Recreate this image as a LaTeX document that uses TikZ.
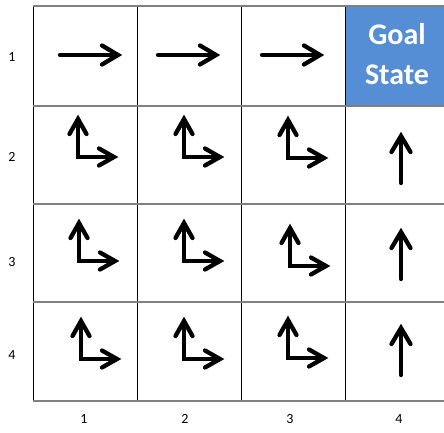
\documentclass[tikz,border=0pt]{standalone}
\usepackage{fontspec}
\setmainfont{Carlito}
\definecolor{goalblue}{RGB}{85,142,213}
\definecolor{hgray}{RGB}{128,128,128}
\begin{document}
\begin{tikzpicture}[x=1pt,y=-1pt,
  hline/.style={draw=hgray, line width=1.8pt},
  vline/.style={draw=black, line width=1pt},
  arr/.style={line width=4.3pt, line cap=round, line join=miter},
  lab/.style={font=\fontsize{14}{16}\selectfont, inner sep=0pt},
  goal/.style={font=\fontsize{30}{40}\selectfont\bfseries, text=white, align=center, inner sep=0pt},
  rarr/.pic={\draw[arr] (-58,0) -- (-2,0); \draw[arr] (-16,-9.5) -- (0,0) -- (-16,9.5);},
  uarr/.pic={\draw[arr] (0,2) -- (0,47); \draw[arr] (-9.5,16) -- (0,0) -- (9.5,16);},
  elbow/.pic={\draw[arr] (0,-36) -- (0,0) -- (34,0);
              \draw[arr] (-8.5,-23) -- (0,-38) -- (8.5,-23);
              \draw[arr] (21,-8.5) -- (36,0) -- (21,8.5);}
]
\useasboundingbox (0,0) rectangle (444,433);
% goal cell
\fill[goalblue] (345,6) rectangle (444,106);
\node[goal] (goal) at (397,54) {Goal\\State};
% grid
\foreach \x in {33,137,241,345} \draw[vline] (\x,6) -- (\x,401);
\foreach \y in {6,106,204,302,401} \draw[hline] (33,\y) -- (444,\y);
% row 1 arrows
\pic at (118,55) {rarr};
\pic at (216,55) {rarr};
\pic at (320,55) {rarr};
% column 4 up arrows
\pic at (401,136) {uarr};
\pic at (401,232) {uarr};
\pic at (401,328) {uarr};
% elbows
\pic at (78,157) {elbow};
\pic at (184,157) {elbow};
\pic at (288,158) {elbow};
\pic at (79,261) {elbow};
\pic at (184,261) {elbow};
\pic at (290,266) {elbow};
\pic at (81,359) {elbow};
\pic at (184,359) {elbow};
\pic at (288,358) {elbow};
% labels
\node[lab] (r1) at (12,57) {1};
\node[lab] (r2) at (12,157) {2};
\node[lab] (r3) at (12,262) {3};
\node[lab] (r4) at (12,355) {4};
\node[lab] (c1) at (84,419) {1};
\node[lab] (c2) at (185,419) {2};
\node[lab] (c3) at (290,419) {3};
\node[lab] (c4) at (399,419) {4};
\end{tikzpicture}
\end{document}
